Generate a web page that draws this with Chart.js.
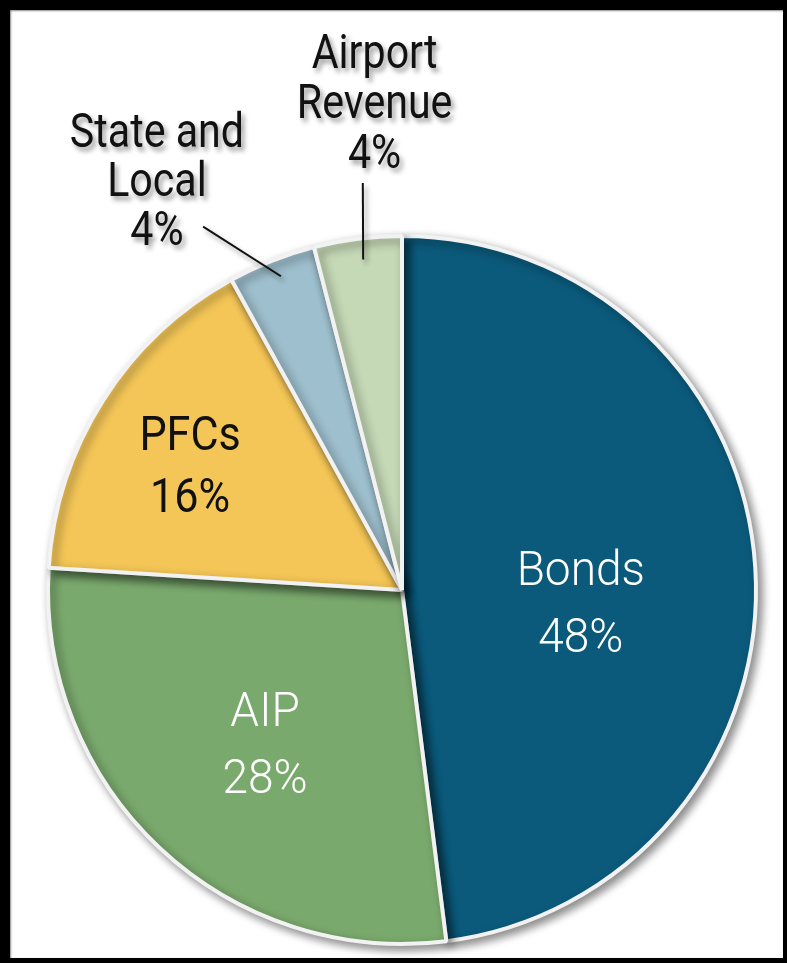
<!DOCTYPE html>
<html>
<head>
<meta charset="utf-8">
<script src="https://cdn.jsdelivr.net/npm/chart.js@4.4.1/dist/chart.umd.min.js"></script>
<style>
  html, body { margin: 0; padding: 0; background: #000; }
  #moldura {
    width: 787px; height: 963px; box-sizing: border-box;
    border-style: solid; border-color: #000;
    border-width: 10px 4px 5px 10px;
    background: #fff;
    box-shadow: inset 1px 1px 2px #888;
  }
  canvas { display: block; }
</style>
</head>
<body>
<div id="moldura"><canvas id="pizza" width="773" height="948"></canvas></div>
<script>
// dados do gráfico
const categorias = ['Bonds', 'AIP', 'PFCs', 'State and Local', 'Airport Revenue'];
const valores = [48, 28, 16, 4, 4];
const linhasNome = [['Bonds'], ['AIP'], ['PFCs'], ['State and', 'Local'], ['Airport', 'Revenue']];
const cores = ['#0b5a7c', '#7aa96d', '#f4c657', '#9ebfce', '#c5d9b6'];

// posição dos rótulos: desvio do ângulo (graus) e fração do raio
const rotuloEstilo = [
  { da: 7.1, rf: 0.506, cor: '#fff', peso: 300, lh: 67, esc: 0.94 },
  { da: -1.2, rf: 0.578, cor: '#fff', peso: 300, lh: 67, esc: 0.94 },
  { da: -1.6, rf: 0.697, cor: '#111', peso: 400, lh: 62, esc: 0.88 },
  { da: -9.2, rf: 1.352, cor: '#111', peso: 400, lh: 49, esc: 0.84, fora: true, linha: [[0.5, 0.95], [-7.1, 1.17]] },
  { da: 4.0, rf: 1.386, cor: '#111', peso: 400, lh: 50, esc: 0.84, fora: true, linha: [[0.5, 0.94], [1.7, 1.155]] }
];

const fonte = 'Roboto, "Liberation Sans", sans-serif';
const tamFonte = 49;

function ponto(arc, graus, frac) {
  const meio = (arc.startAngle + arc.endAngle) / 2 + graus * Math.PI / 180;
  return [arc.x + Math.cos(meio) * arc.outerRadius * frac, arc.y + Math.sin(meio) * arc.outerRadius * frac];
}

// sombra da pizza
const sombra = {
  id: 'sombra',
  beforeDatasetsDraw(chart) {
    const ctx = chart.ctx;
    ctx.save();
    ctx.shadowColor = 'rgba(0,0,0,0.45)';
    ctx.shadowBlur = 10;
    ctx.shadowOffsetX = 4;
    ctx.shadowOffsetY = 4;
  },
  afterDatasetsDraw(chart) {
    chart.ctx.restore();
  }
};

// rótulos e linhas de chamada
const rotulos = {
  id: 'rotulos',
  afterDraw(chart) {
    const ctx = chart.ctx;
    const arcs = chart.getDatasetMeta(0).data;
    arcs.forEach((arc, i) => {
      const st = rotuloEstilo[i];
      const textos = linhasNome[i].concat([valores[i] + '%']);
      ctx.save();
      if (st.fora) {
        ctx.shadowColor = 'rgba(0,0,0,0.4)';
        ctx.shadowBlur = 5;
        ctx.shadowOffsetX = 3;
        ctx.shadowOffsetY = 4;
      }
      if (st.linha) {
        const a = ponto(arc, st.linha[0][0], st.linha[0][1]);
        const b = ponto(arc, st.linha[1][0], st.linha[1][1]);
        ctx.strokeStyle = '#111';
        ctx.lineWidth = 2;
        ctx.beginPath();
        ctx.moveTo(a[0], a[1]);
        ctx.lineTo(b[0], b[1]);
        ctx.stroke();
      }
      const c = ponto(arc, st.da, st.rf);
      const capH = tamFonte * 0.711;
      const total = capH + (textos.length - 1) * st.lh;
      let y = c[1] - total / 2 + capH;
      ctx.font = st.peso + ' ' + tamFonte + 'px ' + fonte;
      ctx.fillStyle = st.cor;
      ctx.textAlign = 'center';
      ctx.textBaseline = 'alphabetic';
      textos.forEach(t => {
        ctx.save();
        ctx.translate(c[0], y);
        ctx.scale(st.esc, 1);
        ctx.fillText(t, 0, 0);
        ctx.restore();
        y += st.lh;
      });
      ctx.restore();
    });
  }
};

const grafico = new Chart(document.getElementById('pizza'), {
  type: 'pie',
  data: {
    labels: categorias,
    datasets: [{
      data: valores,
      backgroundColor: cores,
      borderColor: '#f2f2f2',
      borderWidth: 4
    }]
  },
  options: {
    responsive: false,
    animation: false,
    layout: { padding: { left: 36, right: 25, top: 224, bottom: 12 } },
    plugins: {
      legend: { display: false },
      tooltip: { enabled: false }
    }
  },
  plugins: [sombra, rotulos]
});
</script>
</body>
</html>
